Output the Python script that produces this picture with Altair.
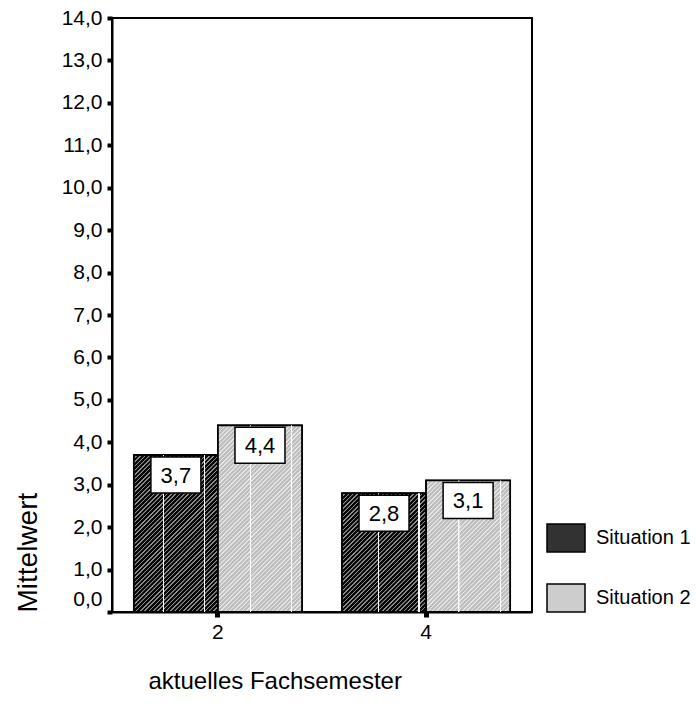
import altair as alt
import pandas as pd

# Mean values per semester and situation
semester = ["2", "2", "4", "4"]
situation = ["Situation 1", "Situation 2", "Situation 1", "Situation 2"]
mittelwert = [3.7, 4.4, 2.8, 3.1]

situations = ["Situation 1", "Situation 2"]
y_ticks = list(range(0, 15))

df = pd.DataFrame({"semester": semester, "situation": situation, "mittelwert": mittelwert})
df["idx"] = range(len(df))

FONT = "Liberation Sans"
DE_FMT = "replace(format(datum.value, '.1f'), '.', ',')"

PLOT_W, PLOT_H, Y_MAX = 420, 594, 14
PAD_INNER, PAD_OUTER = 0.192, 0.105

# Hatch styles: (background, line) per situation
HATCH = {
    "Situation 1": ("#050505", "#8c8c8c"),
    "Situation 2": ("#bebebe", "#e6e6e6"),
}
SOLID = ["#323232", "#cdcdcd"]
# Pale seams of the hatch tiles, as fractions of the bar width
SEAMS = [(0.352, 0.838), (0.387, 0.873), (0.435, 0.916), (0.391, 0.885)]

step = PLOT_W / (2 - PAD_INNER + 2 * PAD_OUTER)
bar_w = step * (1 - PAD_INNER) / 2


def hatch_gradient(value, bg, line, period=4.3):
    """45-degree stripe fill for a bar of the given value (bounding-box units)."""
    h = value * PLOT_H / Y_MAX
    w = bar_w
    span = (w * w + h * h) / w  # length of u+v covered by offsets 0..1
    stops = []
    k = 0
    while k * period <= w + h + period and k * period < span:
        base = k * period
        for frac, col in ((0.0, bg), (0.58, bg), (0.64, line), (0.94, line), (0.999, bg)):
            off = (base + frac * period) / span
            if off <= 1:
                stops.append({"offset": round(off, 5), "color": col})
        k += 1
    return {"gradient": "linear", "x1": 0, "y1": 0, "x2": 1, "y2": round(h / w, 5), "stops": stops}


def seam_gradient(fracs):
    clear = "rgba(255,255,255,0)"
    stops = [{"offset": 0, "color": clear}]
    for f in fracs:
        d = 0.6 / bar_w
        stops += [
            {"offset": f - d, "color": clear},
            {"offset": f - d + 0.001, "color": "white"},
            {"offset": f + d - 0.001, "color": "white"},
            {"offset": f + d, "color": clear},
        ]
    stops.append({"offset": 1, "color": clear})
    return {"gradient": "linear", "x1": 0, "y1": 0, "x2": 1, "y2": 0, "stops": stops}


x_enc = alt.X(
    "semester:N",
    title="aktuelles Fachsemester",
    scale=alt.Scale(paddingInner=PAD_INNER, paddingOuter=PAD_OUTER),
    axis=alt.Axis(
        labelAngle=0, labelFont=FONT, labelFontSize=21, labelColor="black",
        labelPadding=4, tickColor="black", tickSize=5, tickWidth=5,
        domainColor="black", domainWidth=2,
        titleFont=FONT, titleFontSize=24, titleFontWeight="normal", titleColor="black",
        titleAnchor="start", titleAlign="left", titleBaseline="alphabetic",
        titleX=36, titleY=76,
    ),
)
y_enc = alt.Y(
    "mittelwert:Q",
    title="Mittelwert",
    scale=alt.Scale(domain=[0, Y_MAX], nice=False),
    axis=alt.Axis(
        values=y_ticks, labelExpr=DE_FMT, grid=False,
        labelFont=FONT, labelFontSize=21, labelColor="black", labelPadding=5,
        labelOffset={"condition": {"test": "datum.value == 0", "value": -13}, "value": 0},
        tickColor="black", tickSize=5, tickWidth=4,
        domainColor="black", domainWidth=2,
        titleFont=FONT, titleFontSize=28, titleFontWeight="normal", titleColor="black",
        titleAngle=-90, titleAnchor="start", titleAlign="left", titleBaseline="alphabetic",
        titleX=-76, titleY=594,
    ),
)
xo_enc = alt.XOffset("situation:N", scale=alt.Scale(domain=situations))

base = alt.Chart(df)

bars = base.mark_bar(stroke="black", strokeWidth=1.5).encode(
    x=x_enc,
    xOffset=xo_enc,
    y=y_enc,
    color=alt.Color(
        "situation:N",
        scale=alt.Scale(domain=situations, range=SOLID),
        legend=alt.Legend(
            title=None, orient="none", legendX=434, legendY=500, padding=0,
            symbolType="M-1,-0.74H1V0.74H-1Z", symbolSize=1444,
            symbolStrokeColor="black", symbolStrokeWidth=1.5, symbolOpacity=1,
            labelFont=FONT, labelFontSize=20, labelColor="black", labelOffset=10,
            rowPadding=22,
        ),
    ),
)

layers = [bars]
for i, (val, sit) in enumerate(zip(mittelwert, situation)):
    bg, line = HATCH[sit]
    one = base.transform_filter(f"datum.idx == {i}")
    layers.append(
        one.mark_bar(fill=hatch_gradient(val, bg, line), stroke="black", strokeWidth=1.8)
        .encode(x=x_enc, xOffset=xo_enc, y=y_enc)
    )
    layers.append(
        one.mark_bar(fill=seam_gradient(SEAMS[i]), strokeWidth=0)
        .encode(x=x_enc, xOffset=xo_enc, y=y_enc)
    )

label_base = base.transform_calculate(
    txt="replace(format(datum.mittelwert, '.1f'), '.', ',')"
).encode(x=x_enc, xOffset=xo_enc, y=y_enc)

boxes = label_base.mark_point(
    shape="M-1,-0.72H1V0.72H-1Z", size=2500, filled=True, fill="white",
    stroke="black", strokeWidth=1.5, opacity=1, yOffset=20,
)
texts = label_base.mark_text(
    font=FONT, fontSize=22, color="black", baseline="middle", align="center", yOffset=21,
).encode(text="txt:N")

layers += [boxes, texts]

chart = (
    alt.layer(*layers)
    .properties(
        width=PLOT_W, height=PLOT_H,
        autosize=alt.AutoSizeParams(type="none"),
        padding={"left": 112, "top": 18, "right": 164, "bottom": 99},
        background="white",
    )
    .configure_view(stroke="black", strokeWidth=2)
)

chart.save("out.html", embed_options={"renderer": "svg", "actions": False})
